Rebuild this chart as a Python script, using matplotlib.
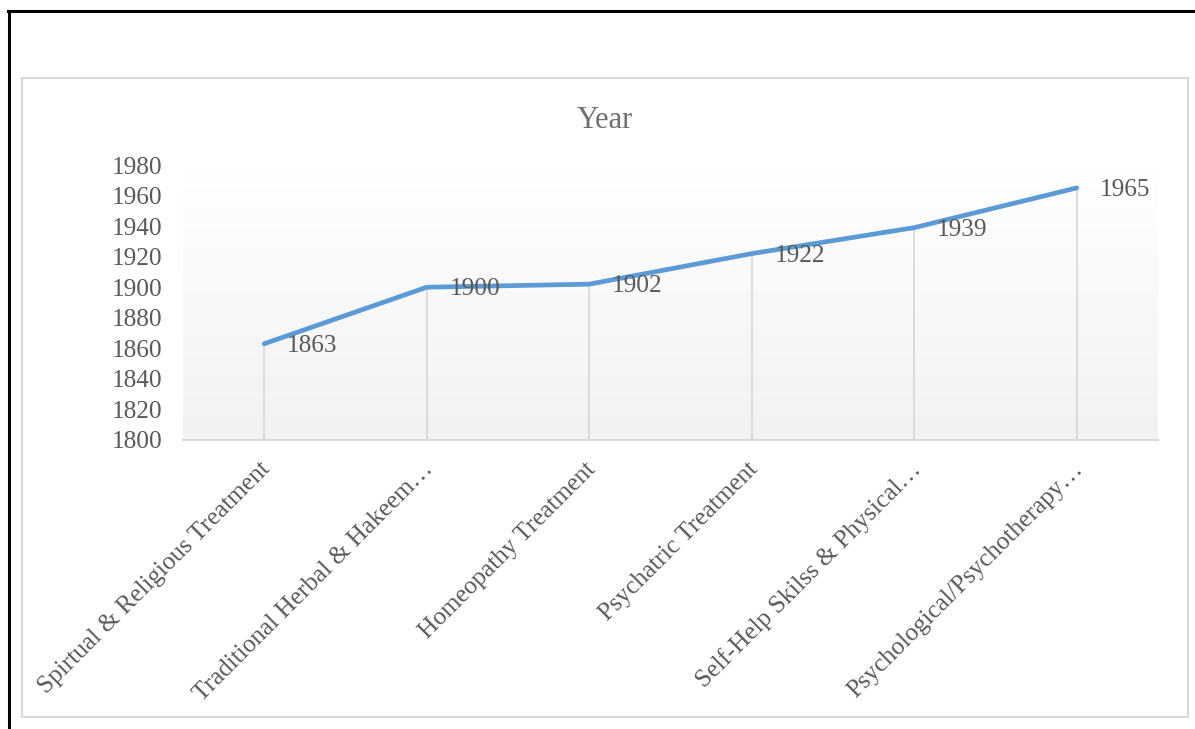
#!/usr/bin/env python3
# coding: utf-8

import numpy as np
import matplotlib
matplotlib.use("Agg")
import matplotlib.pyplot as plt
import matplotlib.transforms as mtransforms
from matplotlib.patches import Rectangle
from matplotlib.lines import Line2D

categories = ["Spirtual & Religious Treatment",
              "Traditional Herbal & Hakeem\u2026",
              "Homeopathy Treatment",
              "Psychatric Treatment",
              "Self-Help Skilss & Physical\u2026",
              "Psychological/Psychotherapy\u2026"]
years = [1863, 1900, 1902, 1922, 1939, 1965]
yticks = [1800, 1820, 1840, 1860, 1880, 1900, 1920, 1940, 1960, 1980]

W, H = 1195, 729
text_col = "#595959"
title_col = "#707070"
grid_col = "#D9D9D9"
line_col = "#5B9BD5"
fs = 18.2

plt.rcParams["font.family"] = ["Liberation Serif", "DejaVu Serif"]

fig = plt.figure(figsize=(W / 100, H / 100), dpi=100)

def fx(px):
    return px / W

def fy(py):
    return 1 - py / H

# outer black frame (top and left only)
fig.add_artist(Line2D([fx(8), fx(1195)], [fy(11), fy(11)], color="black", lw=2.2, transform=fig.transFigure))
fig.add_artist(Line2D([fx(9), fx(9)], [fy(11), fy(729)], color="black", lw=2.2, transform=fig.transFigure))

# light chart area border
fig.add_artist(Rectangle((fx(22), fy(717)), fx(1188) - fx(22), fy(78) - fy(717),
                         transform=fig.transFigure, fill=False, edgecolor=grid_col, lw=1.5))

ax = fig.add_axes([fx(183), fy(440), fx(1158) - fx(183), fy(165) - fy(440)])
ax.set_facecolor("none")

# plot area gradient, white on top to light gray at bottom
grad = np.linspace(1.0, 0.0, 256).reshape(-1, 1)
shade = 0.949 + 0.051 * grad
img = np.dstack([shade, shade, shade])
ax.imshow(img, extent=[0, 1, 0, 1], transform=ax.transAxes, aspect="auto", zorder=0)

x = np.arange(len(categories))
ax.vlines(x, 1800, years, color=grid_col, lw=1.3, zorder=1)
ax.plot(x, years, color=line_col, lw=3.4, solid_capstyle="round", zorder=3)

for xi, v in zip(x, years):
    ax.annotate(str(v), (xi, v), xytext=(16.5, -1.5), textcoords="offset points",
                ha="left", va="center", fontsize=fs, color=text_col, zorder=4)

ax.set_xlim(-0.5, len(categories) - 0.5)
ax.set_ylim(1800, 1980)
ax.set_yticks(yticks)
ax.set_yticklabels([str(t) for t in yticks])
ax.set_xticks(x)
ax.set_xticklabels([])

# rotated category labels, drawn by hand so they can be nudged
lbl_trans = ax.get_xaxis_transform() + mtransforms.ScaledTranslation(-5 / 100, -18 / 100, fig.dpi_scale_trans)
for xi, cat in zip(x, categories):
    ax.text(xi, 0, cat, transform=lbl_trans, rotation=45, ha="right", va="top",
            rotation_mode="anchor", fontsize=fs, color=text_col, clip_on=False)

for s in ["top", "right", "left"]:
    ax.spines[s].set_visible(False)
ax.spines["bottom"].set_color(grid_col)
ax.spines["bottom"].set_linewidth(1.5)
ax.spines["bottom"].set_zorder(2)

ax.tick_params(axis="y", length=0, pad=15, labelsize=fs, labelcolor=text_col)
ax.tick_params(axis="x", length=0)

fig.text(fx(605), fy(120), "Year", ha="center", va="center", fontsize=22, color=title_col)

fig.savefig("out.png", dpi=100)
